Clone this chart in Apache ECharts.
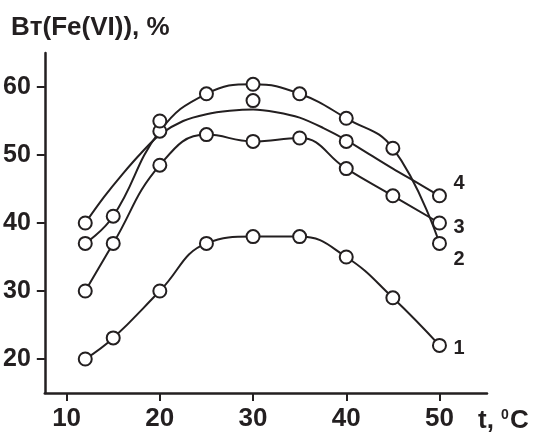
<!DOCTYPE html>
<html>
<head>
<meta charset="utf-8">
<script src="https://cdn.jsdelivr.net/npm/echarts@6/dist/echarts.min.js"></script>
<style>
html, body { margin: 0; padding: 0; background: #fff; }
#chart { width: 533px; height: 432px; }
</style>
</head>
<body>
<div id="chart"></div>
<script>
// data
const temps = [12, 15, 20, 25, 30, 35, 40, 45, 50];
const curve1 = [20, 23.1, 30, 37, 38, 38, 35, 29, 22];
const curve2 = [37, 41, 53.5, 59, 60.4, 59, 55.4, 51, 37];
const curve3 = [30, 37, 48.5, 53, 52, 52.5, 48, 44, 40];
const curve4FitTemps = [12, 14, 16, 18, 20, 22.5, 25, 27.5, 30, 32.5, 35, 37.5, 40, 42.5, 45, 47.5, 50];
const curve4Fit = [40, 43.8, 47.2, 50.3, 53.0, 55.0, 56.0, 56.5, 56.7, 56.3, 55.5, 54.0, 52.2, 50.1, 48.0, 46.0, 44];
const curve4Temps = [12, 20, 30, 40, 50];
const curve4Points = [40, 55, 58, 52, 44];
const curveNames = ['1', '2', '3', '4'];
const xTicks = [10, 20, 30, 40, 50];
const yTicks = [20, 30, 40, 50, 60];

const ink = '#231f20';
const font = '"Liberation Sans", Arial, sans-serif';

function pairs(xs, ys) {
    return xs.map((x, i) => [x, ys[i]]);
}

const marker = {
    symbol: 'circle',
    symbolSize: 13,
    itemStyle: { color: '#fff', borderColor: ink, borderWidth: 2, opacity: 1 }
};

function curve(name, data, labelOffset, withMarkers) {
    return Object.assign({
        name: name,
        type: 'line',
        smooth: withMarkers ? 0.45 : 0.3,
        data: data,
        showSymbol: withMarkers,
        lineStyle: { color: ink, width: 2 },
        z: 2,
        endLabel: {
            show: true,
            formatter: name,
            distance: 14,
            offset: labelOffset,
            color: ink,
            fontSize: 20,
            fontWeight: 'bold',
            fontFamily: font
        }
    }, withMarkers ? marker : { symbol: 'none' });
}

const chart = echarts.init(document.getElementById('chart'));

const option = {
    animation: false,
    backgroundColor: '#fff',
    title: [
        {
            text: 'Bт(Fe(VI)), %',
            left: 11,
            top: 15,
            padding: 0,
            textStyle: { color: ink, fontSize: 26, fontWeight: 'bold', fontFamily: font }
        },
        {
            text: '{a|t, }{s|0}{a|C}',
            left: 478,
            top: 408,
            padding: 0,
            textStyle: {
                rich: {
                    a: { color: ink, fontSize: 26, fontWeight: 'bold', fontFamily: font },
                    s: { color: ink, fontSize: 14, fontWeight: 'bold', fontFamily: font,
                         verticalAlign: 'top', padding: [0, 1, 0, 0] }
                }
            }
        }
    ],
    grid: { left: 41, right: 46, top: 53, bottom: 37, containLabel: false },
    xAxis: {
        type: 'value',
        min: 7.66,
        max: 55.1,
        splitLine: { show: false },
        axisLine: { show: true, lineStyle: { color: ink, width: 2.5 } },
        axisTick: { show: true, length: 8, customValues: xTicks, lineStyle: { color: ink, width: 2 } },
        axisLabel: {
            customValues: xTicks,
            margin: 13,
            color: ink,
            fontSize: 26,
            fontWeight: 'bold',
            fontFamily: font
        }
    },
    yAxis: {
        type: 'value',
        min: 15,
        max: 65,
        splitLine: { show: false },
        axisLine: { show: true, lineStyle: { color: ink, width: 2.5 } },
        axisTick: { show: true, length: 8, customValues: yTicks, lineStyle: { color: ink, width: 2 } },
        axisLabel: {
            customValues: yTicks,
            margin: 14,
            color: ink,
            fontSize: 25,
            fontWeight: 'bold',
            fontFamily: font
        }
    },
    series: [
        curve(curveNames[0], pairs(temps, curve1), [0, 3], true),
        curve(curveNames[1], pairs(temps, curve2), [0, 16], true),
        curve(curveNames[2], pairs(temps, curve3), [0, 4], true),
        curve(curveNames[3], pairs(curve4FitTemps, curve4Fit), [0, -12], false),
        Object.assign({
            name: '4 points',
            type: 'scatter',
            data: pairs(curve4Temps, curve4Points),
            z: 3
        }, marker)
    ]
};

chart.setOption(option);
</script>
</body>
</html>
